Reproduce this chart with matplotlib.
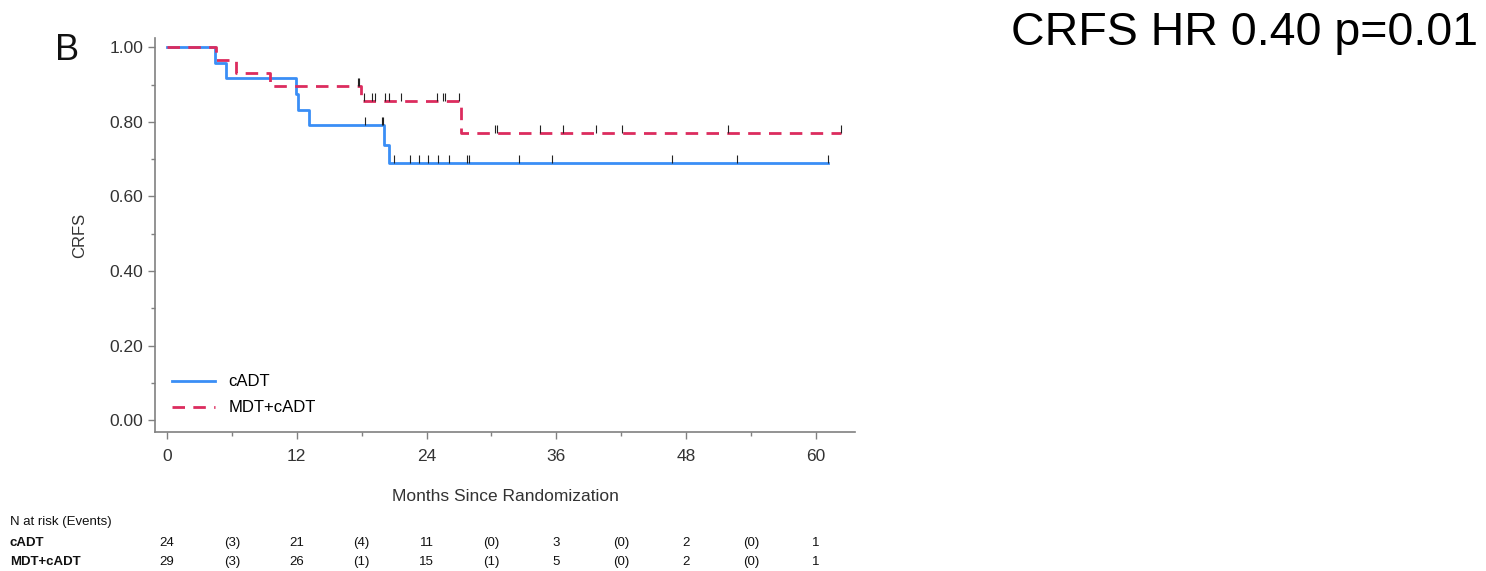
import numpy as np
import matplotlib
matplotlib.use("Agg")
import matplotlib.pyplot as plt
from matplotlib.transforms import blended_transform_factory

plt.rcParams["font.family"] = ["Liberation Sans", "DejaVu Sans"]

# Kaplan-Meier steps
cadt_t = [0, 4.4, 5.5, 11.9, 12.1, 13.1, 20.1, 20.5, 61.1]
cadt_s = [1.0, 0.958, 0.917, 0.875, 0.833, 0.792, 0.739, 0.690, 0.690]
cadt_cens = [18.3, 19.9, 20.0, 21.0, 22.5, 23.3, 24.1, 25.1, 26.1, 27.7, 27.9, 32.5, 35.6, 46.7, 52.7, 61.1]

mdt_t = [0, 4.5, 6.4, 9.5, 17.9, 27.2, 62.3]
mdt_s = [1.0, 0.966, 0.931, 0.897, 0.857, 0.771, 0.771]
mdt_cens = [17.7, 17.8, 18.2, 19.0, 19.2, 20.2, 20.5, 21.6, 25.0, 25.5, 25.7, 27.0, 30.3, 30.5, 34.5, 36.6, 39.7, 42.1, 51.9, 62.3]

risk_times = [0, 6, 12, 18, 24, 30, 36, 42, 48, 54, 60]
risk_cadt = ["24", "(3)", "21", "(4)", "11", "(0)", "3", "(0)", "2", "(0)", "1"]
risk_mdt = ["29", "(3)", "26", "(1)", "15", "(1)", "5", "(0)", "2", "(0)", "1"]

BLUE = "#3a8ef6"
RED = "#dc2c5e"

fig = plt.figure(figsize=(14.86, 5.71), dpi=100)
ax = fig.add_axes([155 / 1486, 1 - 432 / 571, 700 / 1486, (432 - 38) / 571])


def surv_at(t, times, surv):
    i = np.searchsorted(times, t, side="right") - 1
    return surv[i]


ax.step(cadt_t, cadt_s, where="post", color=BLUE, lw=2.0, label="cADT", zorder=3)
ax.step(mdt_t, mdt_s, where="post", color=RED, lw=2.0, ls=(0, (4.5, 3)), label="MDT+cADT", zorder=3)

for cens, times, surv in [(cadt_cens, cadt_t, cadt_s), (mdt_cens, mdt_t, mdt_s)]:
    ys = np.array([surv_at(c, times, surv) for c in cens])
    ax.vlines(cens, ys, ys + 0.02, color="#222222", lw=0.8, zorder=4)

ax.set_xlim(-1.1, 63.6)
ax.set_ylim(-0.032, 1.025)
ax.set_xticks(range(0, 61, 12))
ax.set_xticks(range(6, 61, 12), minor=True)
ax.set_yticks(np.arange(0, 1.01, 0.2))
ax.set_yticks(np.arange(0.1, 1.0, 0.2), minor=True)
ax.set_yticklabels([f"{v:.2f}" for v in np.arange(0, 1.01, 0.2)])

for s in ["top", "right"]:
    ax.spines[s].set_visible(False)
for s in ["left", "bottom"]:
    ax.spines[s].set_color("#808080")
    ax.spines[s].set_linewidth(1.2)
ax.tick_params(which="both", colors="#808080", labelcolor="#333333", labelsize=12.5, width=1.0)
ax.tick_params(which="major", length=5)
ax.tick_params(which="minor", length=3)
ax.tick_params(axis="x", pad=7)

ax.set_ylabel("CRFS", fontsize=12, color="#333333", labelpad=16)
ax.set_xlabel("Months Since Randomization", fontsize=12.5, color="#333333", labelpad=18)

ax.legend(loc="lower left", frameon=False, fontsize=12, handlelength=2.6,
          labelspacing=0.65, borderaxespad=0.6, bbox_to_anchor=(0.0, 0.0))

fig.text(55 / 1486, 1 - 50 / 571, "B", fontsize=26, va="center", ha="left", color="#111111")
fig.text(1478 / 1486, 1 - 33 / 571, "CRFS HR 0.40 p=0.01", fontsize=33.5, va="center", ha="right")

# at-risk table
tr = blended_transform_factory(ax.transData, fig.transFigure)
tfont = dict(fontsize=9.5, family=["Liberation Sans Narrow", "Liberation Sans"], color="#111111")
fig.text(10 / 1486, 1 - 522 / 571, "N at risk (Events)", va="center", ha="left", **tfont)
fig.text(10 / 1486, 1 - 543 / 571, "cADT", va="center", ha="left", fontweight="bold", **tfont)
fig.text(10 / 1486, 1 - 562 / 571, "MDT+cADT", va="center", ha="left", fontweight="bold", **tfont)
for t, a, b in zip(risk_times, risk_cadt, risk_mdt):
    ax.text(t, 1 - 543 / 571, a, transform=tr, va="center", ha="center", **tfont)
    ax.text(t, 1 - 562 / 571, b, transform=tr, va="center", ha="center", **tfont)

fig.savefig("out.png", dpi=100, facecolor="white")
